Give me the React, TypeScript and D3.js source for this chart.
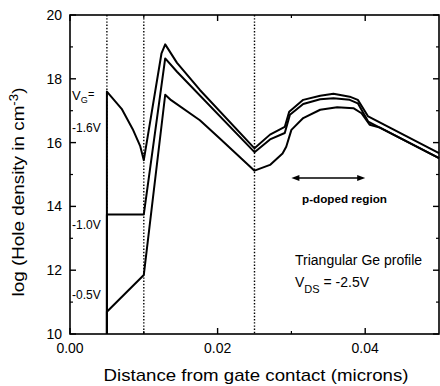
import React from 'react';
import * as d3 from 'd3';

// Series: hole density profiles for three gate voltages
const seriesLabels = ['-1.6V', '-1.0V', '-0.5V'];
const xVg16 = [0.005, 0.005, 0.007, 0.0085, 0.0095, 0.01, 0.0124, 0.0129, 0.0145, 0.0176, 0.025, 0.0271, 0.0291, 0.0297, 0.0316, 0.0339, 0.0357, 0.0379, 0.039, 0.0404, 0.05];
const yVg16 = [10, 17.6, 17.06, 16.42, 15.9, 15.45, 18.8, 19.08, 18.5, 17.65, 15.82, 16.25, 16.49, 16.97, 17.34, 17.47, 17.53, 17.44, 17.34, 16.82, 15.67];
const xVg10 = [0.005, 0.005, 0.01, 0.0129, 0.0145, 0.025, 0.0271, 0.0291, 0.0298, 0.0316, 0.0339, 0.0357, 0.0379, 0.039, 0.0404, 0.05];
const yVg10 = [10, 13.75, 13.75, 18.64, 18.22, 15.7, 16.1, 16.3, 16.87, 17.21, 17.36, 17.39, 17.34, 17.23, 16.66, 15.51];
const xVg05 = [0.005, 0.005, 0.01, 0.0129, 0.0137, 0.0176, 0.0203, 0.025, 0.0271, 0.0288, 0.0293, 0.03, 0.0316, 0.0339, 0.0362, 0.0384, 0.0395, 0.0406, 0.042, 0.05];
const yVg05 = [10, 10.7, 11.85, 17.5, 17.33, 16.7, 16.13, 15.12, 15.3, 15.66, 15.87, 16.4, 16.77, 17.03, 17.11, 17.08, 16.92, 16.56, 16.47, 15.51];

const dividers = [0.005, 0.01, 0.025];
const pRegion = [0.03, 0.04];
const yMajor = [10, 12, 14, 16, 18, 20];
const yMinor = [11, 13, 15, 17, 19];
const xMajor = [0, 0.02, 0.04];
const xMinor = [0.01, 0.03];

const FONT = 'Liberation Sans, Arial, Helvetica, sans-serif';

export default function App() {
  const W = 440, H = 386;
  const left = 70, right = 439, top = 15, bottom = 334;
  const x = d3.scaleLinear().domain([0, 0.05]).range([left, right]);
  const y = d3.scaleLinear().domain([10, 20]).range([bottom, top]);
  const line = d3.line<[number, number]>().x(d => x(d[0])).y(d => y(d[1]));

  const series = [
    { name: seriesLabels[0], xs: xVg16, ys: yVg16 },
    { name: seriesLabels[1], xs: xVg10, ys: yVg10 },
    { name: seriesLabels[2], xs: xVg05, ys: yVg05 },
  ];

  const arrowY = 178;
  const ax0 = x(pRegion[0]), ax1 = x(pRegion[1]);

  return (
    <svg width={W} height={H} style={{ position: 'absolute', left: 0, top: 0, background: '#fff' }} fontFamily={FONT}>
      <rect x={0} y={0} width={W} height={H} fill="#fff" />
      {/* dotted dividers */}
      {dividers.map((d, i) => (
        <line key={'dv' + i} x1={x(d)} x2={x(d)} y1={top} y2={bottom} stroke="#000" strokeWidth={1.4} strokeDasharray="1.4,1.8" />
      ))}
      {/* curves */}
      {series.map((s, i) => (
        <path key={'s' + i} d={line(s.xs.map((v, j) => [v, s.ys[j]] as [number, number])) || ''} fill="none" stroke="#000" strokeWidth={2} strokeLinejoin="round" />
      ))}
      {/* frame */}
      <rect x={left} y={top} width={right - left} height={bottom - top} fill="none" stroke="#000" strokeWidth={1.6} />
      {/* y ticks */}
      {yMajor.map(v => (
        <g key={'ym' + v}>
          <line x1={left} x2={left + 6} y1={y(v)} y2={y(v)} stroke="#000" strokeWidth={1.4} />
          <line x1={right} x2={right - 6} y1={y(v)} y2={y(v)} stroke="#000" strokeWidth={1.4} />
          <text x={62} y={y(v)} dy="0.35em" textAnchor="end" fontSize={14} fill="#000">{v}</text>
        </g>
      ))}
      {yMinor.map(v => (
        <g key={'yn' + v}>
          <line x1={left} x2={left + 3} y1={y(v)} y2={y(v)} stroke="#000" strokeWidth={1.2} />
          <line x1={right} x2={right - 3} y1={y(v)} y2={y(v)} stroke="#000" strokeWidth={1.2} />
        </g>
      ))}
      {/* x ticks */}
      {xMajor.map(v => (
        <g key={'xm' + v}>
          <line x1={x(v)} x2={x(v)} y1={bottom} y2={bottom - 6} stroke="#000" strokeWidth={1.4} />
          <line x1={x(v)} x2={x(v)} y1={top} y2={top + 6} stroke="#000" strokeWidth={1.4} />
          <text x={x(v)} y={353} textAnchor="middle" fontSize={14} fill="#000">{d3.format('.2f')(v)}</text>
        </g>
      ))}
      {xMinor.map(v => (
        <g key={'xn' + v}>
          <line x1={x(v)} x2={x(v)} y1={bottom} y2={bottom - 3} stroke="#000" strokeWidth={1.2} />
          <line x1={x(v)} x2={x(v)} y1={top} y2={top + 3} stroke="#000" strokeWidth={1.2} />
        </g>
      ))}
      {/* axis titles */}
      <text x={256} y={381} textAnchor="middle" fontSize={17} textLength={305} lengthAdjust="spacingAndGlyphs" fill="#000">Distance from gate contact (microns)</text>
      <text transform="translate(24,192) rotate(-90)" textAnchor="middle" fontSize={17} fill="#000" textLength={209} lengthAdjust="spacingAndGlyphs">
        log (Hole density in cm<tspan dy={-6} fontSize={12}>-3</tspan><tspan dy={6}>)</tspan>
      </text>
      {/* voltage labels */}
      <text x={72} y={100} fontSize={13} fill="#000">V<tspan dy={3} fontSize={9}>G</tspan></text>
      <text x={88} y={98} fontSize={11} fill="#000">=</text>
      <text x={72} y={132} fontSize={12} fill="#000">{seriesLabels[0]}</text>
      <text x={72} y={229} fontSize={12} fill="#000">{seriesLabels[1]}</text>
      <text x={72} y={299} fontSize={12} fill="#000">{seriesLabels[2]}</text>
      {/* p-doped arrow */}
      <line x1={ax0 + 6} x2={ax1 - 6} y1={arrowY} y2={arrowY} stroke="#000" strokeWidth={1.5} />
      <path d={`M${ax0},${arrowY} l8,-3 l0,6 z`} fill="#000" />
      <path d={`M${ax1},${arrowY} l-8,-3 l0,6 z`} fill="#000" />
      <text x={302} y={203} fontSize={11} fontWeight="bold" textLength={85} lengthAdjust="spacingAndGlyphs" fill="#000">p-doped region</text>
      {/* profile annotation */}
      <text x={295} y={265} fontSize={14} fill="#000">Triangular Ge profile</text>
      <text x={295} y={287} fontSize={14} fill="#000">V<tspan dy={6} fontSize={11}>DS</tspan><tspan dy={-6}> = -2.5V</tspan></text>
    </svg>
  );
}
